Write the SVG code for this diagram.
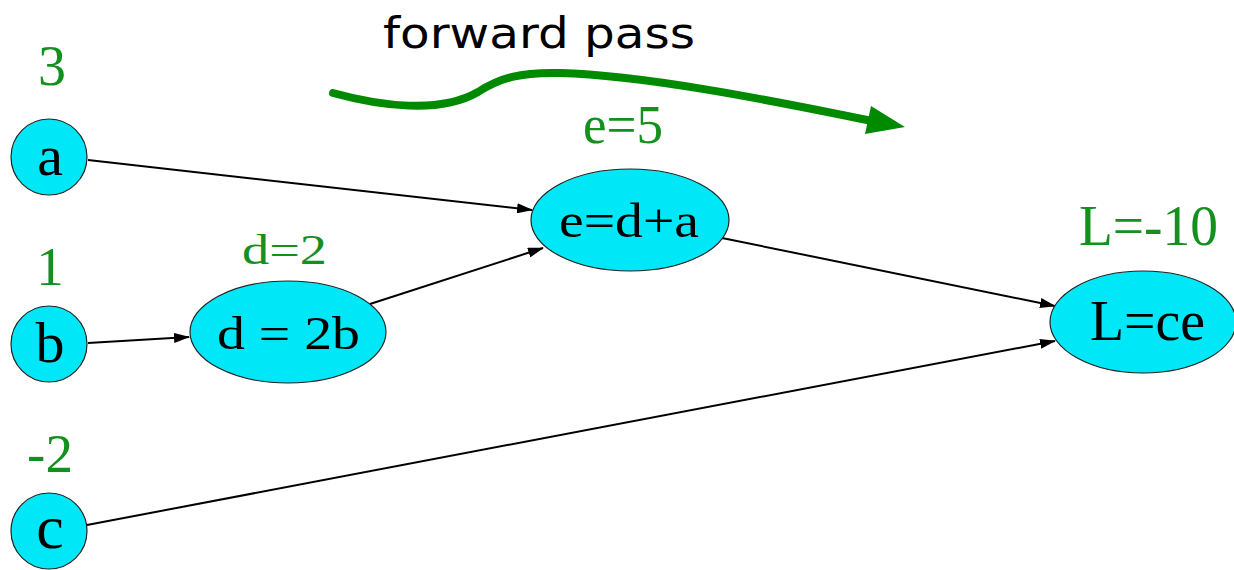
<svg xmlns="http://www.w3.org/2000/svg" width="1234" height="570" viewBox="0 0 1234 570">
<defs>
<style>
.node{fill:#00e8f8;stroke:#222;stroke-width:1.2}
.lbl{font-family:"Liberation Serif","Times New Roman",serif;fill:#000}
.val{font-family:"Liberation Serif","Times New Roman",serif;fill:#14901e}
.edge{stroke:#000;stroke-width:2;fill:none;marker-end:url(#ah)}
</style>
<marker id="ah" markerWidth="16" markerHeight="10" refX="15" refY="5" orient="auto" markerUnits="userSpaceOnUse">
<path d="M0,0 L16,5 L0,10 Z" fill="#000"/>
</marker>
</defs>
<rect width="1234" height="570" fill="#fff"/>
<g id="forward-pass">
<text x="383" y="48" font-family="'DejaVu Sans',sans-serif" font-size="42" textLength="312" lengthAdjust="spacingAndGlyphs" fill="#000">forward pass</text>
<path d="M333,93 C380,106 440,114 478,92 C500,78 520,72 560,73 C640,75 760,98 872,121" fill="none" stroke="#008a00" stroke-width="8" stroke-linecap="round"/>
<polygon points="871,106 905,127 865,134" fill="#008a00"/>
</g>
<g id="connectors">
<line class="edge" x1="88" y1="160" x2="532" y2="210"/>
<line class="edge" x1="88" y1="343" x2="189" y2="337"/>
<line class="edge" x1="370" y1="304" x2="543" y2="248"/>
<line class="edge" x1="722" y1="238" x2="1055" y2="306"/>
<line class="edge" x1="87" y1="525" x2="1055" y2="341"/>
</g>
<g id="node-a">
<circle class="node" cx="49" cy="157" r="38"/>
<text class="lbl" x="50" y="175" font-size="58" text-anchor="middle">a</text>
<text class="val" x="52" y="85" font-size="56" text-anchor="middle">3</text>
</g>
<g id="node-b">
<circle class="node" cx="49" cy="344" r="38"/>
<text class="lbl" x="50" y="362" font-size="58" text-anchor="middle">b</text>
<text class="val" x="50" y="285" font-size="55" text-anchor="middle">1</text>
</g>
<g id="node-c">
<circle class="node" cx="49" cy="531" r="38"/>
<text class="lbl" x="50" y="548" font-size="62" text-anchor="middle">c</text>
<text class="val" x="50" y="472" font-size="55" text-anchor="middle">-2</text>
</g>
<g id="node-d">
<ellipse class="node" cx="288" cy="332" rx="98" ry="51"/>
<text class="lbl" x="217" y="349" font-size="47" textLength="143" lengthAdjust="spacingAndGlyphs">d = 2b</text>
<text class="val" x="242" y="264" font-size="42" textLength="85" lengthAdjust="spacingAndGlyphs">d=2</text>
</g>
<g id="node-e">
<ellipse class="node" cx="630" cy="220" rx="99" ry="51"/>
<text class="lbl" x="559" y="237" font-size="48" textLength="140" lengthAdjust="spacingAndGlyphs">e=d+a</text>
<text class="val" x="583" y="143" font-size="54" textLength="80" lengthAdjust="spacingAndGlyphs">e=5</text>
</g>
<g id="node-L">
<ellipse class="node" cx="1143" cy="322" rx="93" ry="51"/>
<text class="lbl" x="1090" y="340" font-size="56" textLength="115" lengthAdjust="spacingAndGlyphs">L=ce</text>
<text class="val" x="1079" y="245" font-size="57" textLength="139" lengthAdjust="spacingAndGlyphs">L=-10</text>
</g>
</svg>
